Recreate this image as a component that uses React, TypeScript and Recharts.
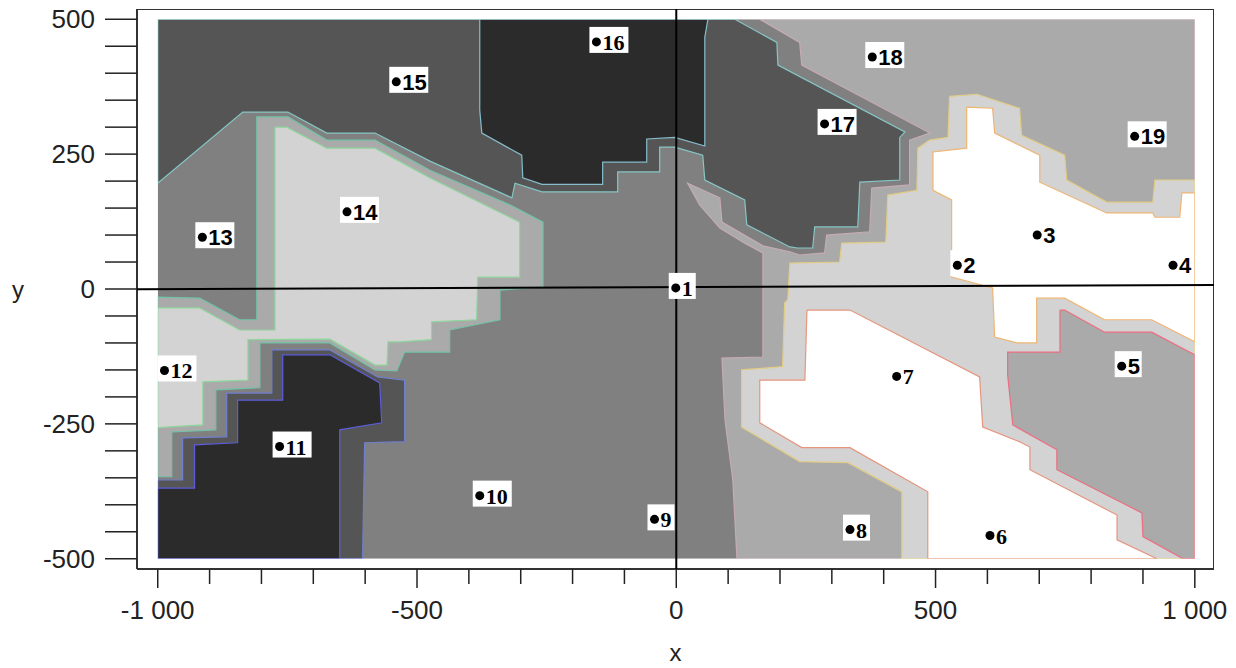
import { ScatterChart, Scatter, XAxis, YAxis } from 'recharts'

type Pt = [number, number]

const xTicks = [-1000, -900, -800, -700, -600, -500, -400, -300, -200, -100, 0, 100, 200, 300, 400, 500, 600, 700, 800, 900, 1000]
const yTicks = [-500, -450, -400, -350, -300, -250, -200, -150, -100, -50, 0, 50, 100, 150, 200, 250, 300, 350, 400, 450, 500]
const xMajor = [-1000, -500, 0, 500, 1000]
const yMajor = [-500, -250, 0, 250, 500]

// numbered sample points
const pointIds = [1, 2, 3, 4, 5, 6, 7, 8, 9, 10, 11, 12, 13, 14, 15, 16, 17, 18, 19]
const pointX = [-1, 542, 696, 958, 859, 605, 425, 335, -42, -379, -765, -987, -914, -635, -540, -154, 286, 378, 884]
const pointY = [2, 44, 100, 44, -143, -457, -162, -446, -427, -383, -292, -151, 96, 143, 384, 458, 306, 430, 283]
const serifIds = [1, 6, 7, 8, 9, 10, 11, 12, 16]

// filled contour levels, outer boundary of each band (x, y)
const field: Pt[] = [[-1000, -500], [1000, -500], [1000, 500], [-1000, 500]]

const low1North: Pt[] = [
  [-1000, 500], [113, 500], [194, 457], [196, 415], [441, 291], [431, 281], [431, 202], [354, 198], [350, 115],
  [267, 115], [263, 76], [234, 76], [219, 78], [136, 119], [132, 165], [55, 202], [51, 248], [-3, 263], [-32, 263],
  [-32, 217], [-113, 217], [-113, 180], [-259, 180], [-311, 196], [-317, 169], [-475, 237], [-581, 289], [-674, 289],
  [-749, 328], [-836, 328], [-1000, 196],
]
const low0North: Pt[] = [
  [-379, 500], [-379, 331], [-375, 289], [-298, 248], [-296, 206], [-259, 194], [-142, 194], [-142, 235], [-57, 235],
  [-57, 278], [-3, 281], [55, 265], [55, 467], [61, 500],
]
const low1West: Pt[] = [
  [-1000, -354], [-952, -354], [-952, -276], [-867, -274], [-867, -193], [-780, -193], [-780, -113], [-668, -113],
  [-576, -163], [-524, -169], [-524, -283], [-601, -285], [-605, -500], [-1000, -500],
]
const low0West: Pt[] = [
  [-1000, -369], [-929, -369], [-929, -289], [-846, -285], [-846, -206], [-759, -206], [-759, -122], [-668, -122],
  [-572, -174], [-568, -248], [-649, -261], [-649, -500], [-1000, -500],
]
const high3West: Pt[] = [
  [-1000, -15], [-919, -17], [-842, -57], [-809, -57], [-809, 319], [-749, 319], [-674, 276], [-581, 276], [-475, 220],
  [-321, 156], [-257, 124], [-257, 4], [-340, -2], [-340, -57], [-437, -76], [-437, -117], [-524, -117], [-539, -152],
  [-581, -150], [-668, -100], [-803, -100], [-803, -183], [-888, -187], [-888, -261], [-973, -265], [-973, -348],
  [-1000, -348],
]
const high4West: Pt[] = [
  [-774, 300], [-751, 300], [-674, 261], [-581, 261], [-475, 206], [-302, 124], [-302, 22], [-383, 22], [-385, -57],
  [-472, -61], [-472, -94], [-533, -98], [-556, -98], [-558, -141], [-581, -141], [-668, -93], [-826, -94],
  [-826, -169], [-913, -172], [-913, -252], [-1000, -257], [-1000, -35], [-919, -35], [-842, -76], [-774, -76],
]
const high3East: Pt[] = [
  [161, 500], [1000, 500], [1000, -500], [117, -500], [109, -354], [94, -243], [88, -128], [167, -126], [167, 67],
  [132, 85], [84, 113], [45, 156], [22, 196], [84, 169], [88, 124], [167, 80], [219, 69], [238, 63], [286, 67],
  [290, 100], [373, 106], [377, 187], [450, 193], [450, 276], [489, 289], [242, 415], [238, 457],
]
const high4East: Pt[] = [
  [527, 357], [580, 361], [662, 335], [666, 285], [749, 248], [753, 202], [830, 161], [919, 161], [923, 202],
  [1000, 202], [1000, -500], [435, -500], [435, -376], [331, -322], [238, -320], [126, -256], [126, -150], [205, -144],
  [209, -26], [215, -20], [219, 48], [315, 50], [319, 85], [404, 87], [408, 174], [464, 183], [466, 261], [489, 276],
  [524, 281],
]
const high5North: Pt[] = [
  [560, 337], [610, 335], [614, 289], [701, 248], [701, 198], [830, 141], [919, 141], [923, 133], [971, 133],
  [975, 178], [1000, 178], [1000, -98], [917, -57], [826, -57], [749, -17], [695, -17], [695, -100], [657, -100],
  [614, -89], [610, 2], [531, 22], [531, 165], [495, 183], [495, 254], [560, 261],
]
const high5South: Pt[] = [
  [252, -39], [335, -39], [585, -163], [591, -256], [662, -283], [682, -293], [682, -335], [850, -419], [850, -465],
  [927, -500], [485, -500], [485, -376], [335, -294], [242, -294], [161, -248], [161, -169], [248, -169],
]
const dip3East: Pt[] = [
  [740, -39], [749, -39], [826, -80], [917, -80], [1000, -122], [1000, -500], [977, -500], [900, -459], [898, -415],
  [734, -335], [734, -298], [649, -252], [639, -159], [639, -117], [740, -117],
]

// white margin between the field and the frame
const mat: Pt[] = [
  [-1040, -519], [1037, -519], [1037, 519], [-1040, 519], [-1040, -519],
  [-1000, -500], [-1000, 500], [1000, 500], [1000, -500], [-1000, -500],
]
const frame: Pt[] = [[-1040, -519], [1037, -519], [1037, 519], [-1040, 519], [-1040, -519]]
const axisV: Pt[] = [[0, 519], [0, -519]]
const axisH: Pt[] = [[-1040, -0.6], [1037, 7.4]]

const layers = [
  { pts: field, fill: '#808080', edge: 'none' },
  { pts: low1North, fill: '#555555', edge: '#86c6c4' },
  { pts: low0North, fill: '#2b2b2b', edge: '#86bccc' },
  { pts: low1West, fill: '#555555', edge: '#6f7fcf' },
  { pts: low0West, fill: '#2b2b2b', edge: '#5c5cdc' },
  { pts: high3West, fill: '#aaaaaa', edge: '#72c2a6' },
  { pts: high4West, fill: '#d3d3d3', edge: '#8ed69c' },
  { pts: high3East, fill: '#aaaaaa', edge: '#c6aab4' },
  { pts: high4East, fill: '#d3d3d3', edge: '#e2cc84' },
  { pts: high5North, fill: '#ffffff', edge: '#efb574' },
  { pts: high5South, fill: '#ffffff', edge: '#e6957e' },
  { pts: dip3East, fill: '#aaaaaa', edge: '#ee6c80' },
]

const toData = (pts: Pt[], close = true) => (close ? [...pts, pts[0]] : pts).map(([x, y]) => ({ x, y }))
const points = pointIds.map((id, i) => ({ id, x: pointX[i], y: pointY[i] }))

const fmt = (v: number) => {
  const s = String(Math.abs(v)).replace(/\B(?=(\d{3})+(?!\d))/g, ' ')
  return v < 0 ? `-${s}` : s
}

const axisFont = '"Liberation Sans", Arial, sans-serif'
const noDot = () => <g />

function XTick(props: any) {
  const { x, y, payload } = props
  const major = xMajor.includes(payload.value)
  return (
    <g>
      <line x1={x} y1={y} x2={x} y2={y + (major ? 19 : 15)} stroke="#222" strokeWidth={1.5} />
      {major && (
        <text x={x} y={y + 50} textAnchor="middle" fontSize={26} fontFamily={axisFont} fill="#222">
          {fmt(payload.value)}
        </text>
      )}
    </g>
  )
}

function YTick(props: any) {
  const { x, y, payload } = props
  if (!yMajor.includes(payload.value)) return <g />
  return (
    <text x={x} y={y + 9} textAnchor="end" fontSize={26} fontFamily={axisFont} fill="#222">
      {fmt(payload.value)}
    </text>
  )
}

function PointMark(props: any) {
  const { cx, cy, payload } = props
  const label = String(payload.id)
  const serif = serifIds.includes(payload.id)
  return (
    <g>
      <rect x={cx - 7} y={cy - 15} width={15 + label.length * 12} height={26} fill="#fff" />
      <circle cx={cx} cy={cy} r={4.5} fill="#000" />
      <text
        x={cx + 6}
        y={cy + 8}
        fontSize={22}
        fontWeight="bold"
        fontFamily={serif ? '"Liberation Serif", serif' : '"Liberation Sans", sans-serif'}
        fill="#000"
      >
        {label}
      </text>
    </g>
  )
}

export default function App() {
  return (
    <div style={{ marginTop: -8 }}>
      <ScatterChart width={1220} height={668} margin={{ top: 9, right: 14, bottom: 7, left: 0 }}>
        <XAxis
          type="number"
          dataKey="x"
          domain={[-1040, 1037]}
          ticks={xTicks}
          interval={0}
          allowDataOverflow
          height={92}
          tickSize={0}
          tickMargin={0}
          tickLine={false}
          tick={XTick}
          axisLine={{ stroke: '#333', strokeWidth: 2 }}
          label={{ value: 'x', position: 'insideBottom', offset: 0, fontSize: 24, fill: '#222', fontFamily: axisFont }}
        />
        <YAxis
          type="number"
          dataKey="y"
          domain={[-519, 519]}
          ticks={yTicks}
          interval={0}
          allowDataOverflow
          width={129}
          tickSize={32}
          tickMargin={10}
          tickLine={{ stroke: '#222', strokeWidth: 1.5 }}
          tick={YTick}
          axisLine={{ stroke: '#333', strokeWidth: 2 }}
          label={{ value: 'y', position: 'insideLeft', offset: 4, fontSize: 24, fill: '#222', fontFamily: axisFont }}
        />
        {layers.map((l, i) => (
          <Scatter
            key={i}
            data={toData(l.pts)}
            shape={noDot}
            line={{ fill: l.fill, stroke: l.edge, strokeWidth: 1.2 }}
            isAnimationActive={false}
          />
        ))}
        <Scatter data={toData(mat, false)} shape={noDot} line={{ fill: '#fff', stroke: 'none' }} isAnimationActive={false} />
        <Scatter data={toData(frame, false)} shape={noDot} line={{ fill: 'none', stroke: '#333', strokeWidth: 2 }} isAnimationActive={false} />
        <Scatter data={toData(axisV, false)} shape={noDot} line={{ stroke: '#000', strokeWidth: 2 }} isAnimationActive={false} />
        <Scatter data={toData(axisH, false)} shape={noDot} line={{ stroke: '#000', strokeWidth: 2 }} isAnimationActive={false} />
        <Scatter data={points} shape={PointMark} isAnimationActive={false} />
      </ScatterChart>
    </div>
  )
}
